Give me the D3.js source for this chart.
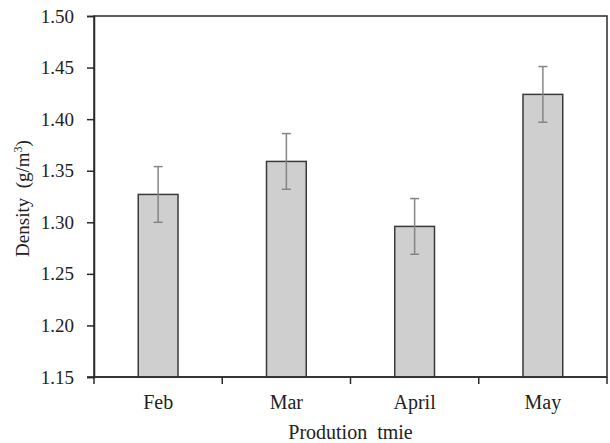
<!DOCTYPE html>
<html>
<head>
<meta charset="utf-8">
<script src="https://cdn.jsdelivr.net/npm/d3@7"></script>
<style>
html,body{margin:0;padding:0;background:#fff;}
svg{display:block;}
text{font-family:"Liberation Serif","Times New Roman",serif;fill:#222;}
</style>
</head>
<body>
<svg id="chart" width="610" height="443"></svg>
<script>
const categories = ["Feb", "Mar", "April", "May"];
const values = [1.327, 1.359, 1.296, 1.424];
const errors = [0.027, 0.027, 0.027, 0.027];
const yTicks = [1.15, 1.20, 1.25, 1.30, 1.35, 1.40, 1.45, 1.50];

const svg = d3.select("#chart");
const m = {left: 94, top: 16, right: 3, bottom: 66};
const W = 610, H = 443;
const x0 = m.left, x1 = W - m.right, y0 = H - m.bottom, y1 = m.top;

const x = d3.scaleBand().domain(categories).range([x0, x1]).paddingInner(0).paddingOuter(0);
const y = d3.scaleLinear().domain([1.15, 1.50]).range([y0, y1]);

// frame
svg.append("rect").attr("x", x0).attr("y", y1).attr("width", x1 - x0).attr("height", y0 - y1)
  .attr("fill", "none").attr("stroke", "#2a2a2a").attr("stroke-width", 1.5);

// bars
const bw = x.bandwidth() * 0.31;
svg.selectAll("rect.bar").data(categories).enter().append("rect").attr("class", "bar")
  .attr("x", d => x(d) + x.bandwidth() / 2 - bw / 2)
  .attr("y", (d, i) => y(values[i]))
  .attr("width", bw)
  .attr("height", (d, i) => y0 - y(values[i]))
  .attr("fill", "#d0cfd0").attr("stroke", "#3a3a3a").attr("stroke-width", 1.5);

// error bars
const eb = svg.append("g").attr("stroke", "#858585").attr("stroke-width", 1.5);
categories.forEach((c, i) => {
  const cx = x(c) + x.bandwidth() / 2;
  eb.append("line").attr("x1", cx).attr("x2", cx).attr("y1", y(values[i] + errors[i])).attr("y2", y(values[i] - errors[i]));
  eb.append("line").attr("x1", cx - 4.5).attr("x2", cx + 4.5).attr("y1", y(values[i] + errors[i])).attr("y2", y(values[i] + errors[i]));
  eb.append("line").attr("x1", cx - 4.5).attr("x2", cx + 4.5).attr("y1", y(values[i] - errors[i])).attr("y2", y(values[i] - errors[i]));
});

// y axis
const yAxis = d3.axisLeft(y).tickValues(yTicks).tickFormat(d3.format(".2f")).tickSize(7).tickPadding(13);
const gy = svg.append("g").attr("transform", `translate(${x0},0)`).call(yAxis);
gy.attr("font-family", null).attr("font-size", null);
gy.select(".domain").attr("stroke", "#2a2a2a").attr("stroke-width", 1.5);
gy.selectAll(".tick line").attr("stroke", "#2a2a2a").attr("stroke-width", 1.5);
gy.selectAll(".tick text").attr("font-size", 19).attr("fill", "#222");

// x axis: ticks at category boundaries
const gx = svg.append("g").attr("transform", `translate(0,${y0})`);
gx.append("line").attr("x1", x0 - 7).attr("x2", x1).attr("y1", 0).attr("y2", 0).attr("stroke", "#2a2a2a").attr("stroke-width", 1.5);
const bounds = categories.map(c => x(c)).concat([x1]);
gx.selectAll("line.tk").data(bounds).enter().append("line").attr("class", "tk")
  .attr("x1", d => d).attr("x2", d => d).attr("y1", 0).attr("y2", 7)
  .attr("stroke", "#2a2a2a").attr("stroke-width", 1.5);
gx.selectAll("text.cat").data(categories).enter().append("text").attr("class", "cat")
  .attr("x", d => x(d) + x.bandwidth() / 2).attr("y", 32)
  .attr("text-anchor", "middle").attr("font-size", 20).text(d => d);

// axis titles
svg.append("text").attr("x", (x0 + x1) / 2).attr("y", 439).attr("text-anchor", "middle")
  .attr("font-size", 20).style("white-space", "pre").text("Prodution  tmie");

const yt = svg.append("text").attr("transform", `translate(29,${(y0 + y1) / 2 + 2}) rotate(-90)`)
  .attr("text-anchor", "middle").attr("font-size", 19).style("white-space", "pre");
yt.append("tspan").text("Density  (g/m");
yt.append("tspan").attr("font-size", 12).attr("dy", -7).text("3");
yt.append("tspan").attr("dy", 7).text(")");
</script>
</body>
</html>
